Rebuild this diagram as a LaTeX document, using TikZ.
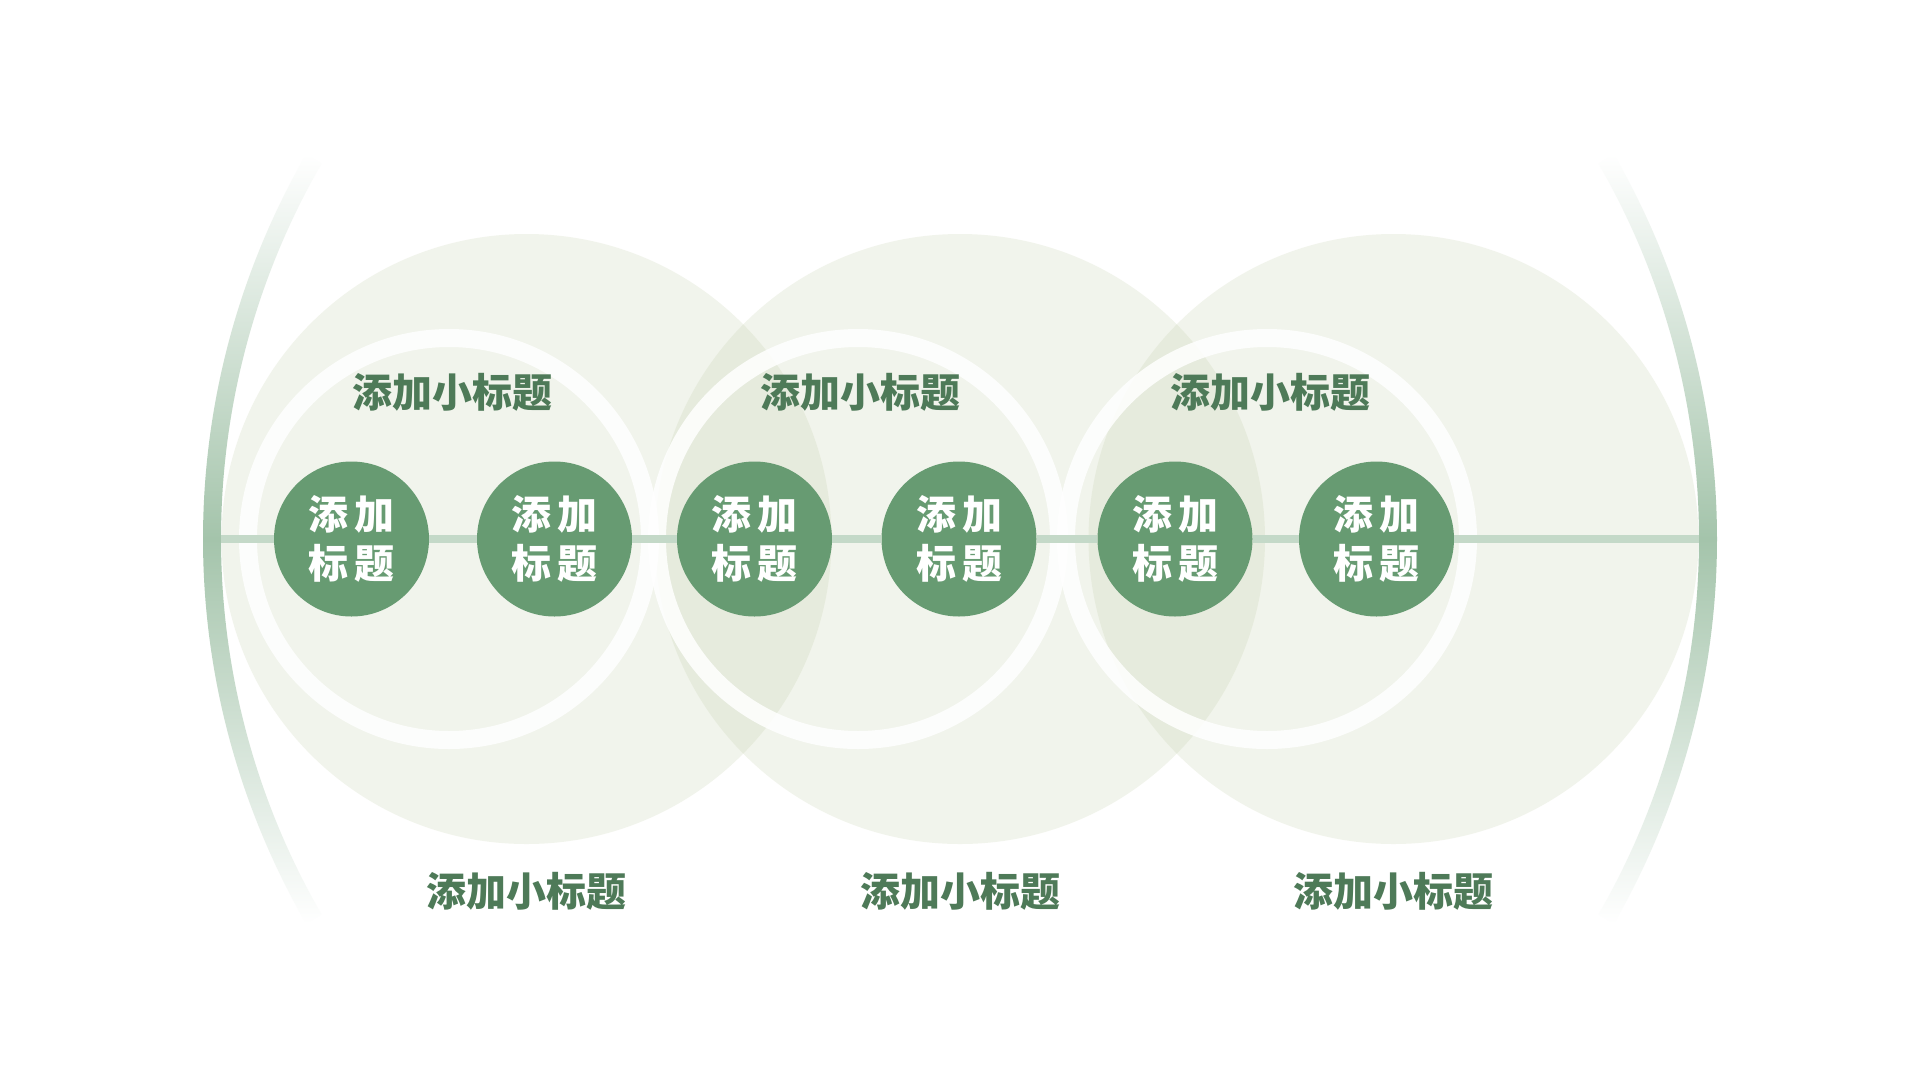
\documentclass[tikz,border=0pt]{standalone}
\usepackage{fontspec}
\newfontfamily\cjk{Noto Sans CJK SC}[BoldFont={Noto Sans CJK SC Black}]
\definecolor{bigfill}{RGB}{192,205,166}
\definecolor{linegreen}{RGB}{196,217,200}
\definecolor{arcgreen}{RGB}{164,196,171}
\definecolor{dotgreen}{RGB}{103,155,114}
\definecolor{titlegreen}{RGB}{78,122,88}
\tikzset{
  bigdisc/.style={fill=bigfill, fill opacity=0.21},
  ringline/.style={draw=white, draw opacity=0.85, line width=18pt},
  dotnode/.style={circle, fill=dotgreen, minimum size=155pt, inner sep=0pt,
    text=white, align=center, font=\cjk\bfseries\fontsize{40}{49}\selectfont},
  titlenode/.style={inner sep=0pt, text=titlegreen,
    font=\cjk\bfseries\fontsize{40}{48}\selectfont},
  axisline/.style={draw=linegreen, line width=8pt},
  arcshade/.style={top color=white, bottom color=white, middle color=arcgreen}
}
\newcommand{\dottext}{添\hspace{6pt}加\\标\hspace{6pt}题}
\begin{document}
\begin{tikzpicture}[x=1pt,y=-1pt]
\useasboundingbox (0,0) rectangle (1920,1080);
\fill[white] (0,0) rectangle (1920,1080);

% big translucent discs
\fill[bigdisc] (526.5,539) circle[radius=305];
\fill[bigdisc] (960,539) circle[radius=305];
\fill[bigdisc] (1393.5,539) circle[radius=305];

% white rings
\draw[ringline] (449,539) circle[radius=201];
\draw[ringline] (858,539) circle[radius=201];
\draw[ringline] (1267,539) circle[radius=201];

% outer arcs with fading ends
\shade[arcshade] (972,539) ++(150:769) arc[start angle=150, end angle=210, radius=769]
  -- ++(30:18) arc[start angle=210, end angle=150, radius=751] -- cycle;
\shade[arcshade] (948,539) ++(-30:769) arc[start angle=-30, end angle=30, radius=769]
  -- ++(210:18) arc[start angle=30, end angle=-30, radius=751] -- cycle;

% line end points
\coordinate (lineL) at (221,539);
\coordinate (lineR) at (1699,539);

% green dots
\node[dotnode] (d1) at (351.5,539) {\dottext};
\node[dotnode] (d2) at (554.5,539) {\dottext};
\node[dotnode] (d3) at (754.5,539) {\dottext};
\node[dotnode] (d4) at (959,539) {\dottext};
\node[dotnode] (d5) at (1175,539) {\dottext};
\node[dotnode] (d6) at (1376.5,539) {\dottext};

% axis line
\draw[axisline] (lineL) -- (d1);
\draw[axisline] (d1) -- (d2);
\draw[axisline] (d2) -- (d3);
\draw[axisline] (d3) -- (d4);
\draw[axisline] (d4) -- (d5);
\draw[axisline] (d5) -- (d6);
\draw[axisline] (d6) -- (lineR);

% titles
\node[titlenode] (t1) at (452,392) {添加小标题};
\node[titlenode] (t2) at (860,392) {添加小标题};
\node[titlenode] (t3) at (1270,392) {添加小标题};
\node[titlenode] (b1) at (526,891) {添加小标题};
\node[titlenode] (b2) at (960,891) {添加小标题};
\node[titlenode] (b3) at (1393,891) {添加小标题};
\end{tikzpicture}
\end{document}
